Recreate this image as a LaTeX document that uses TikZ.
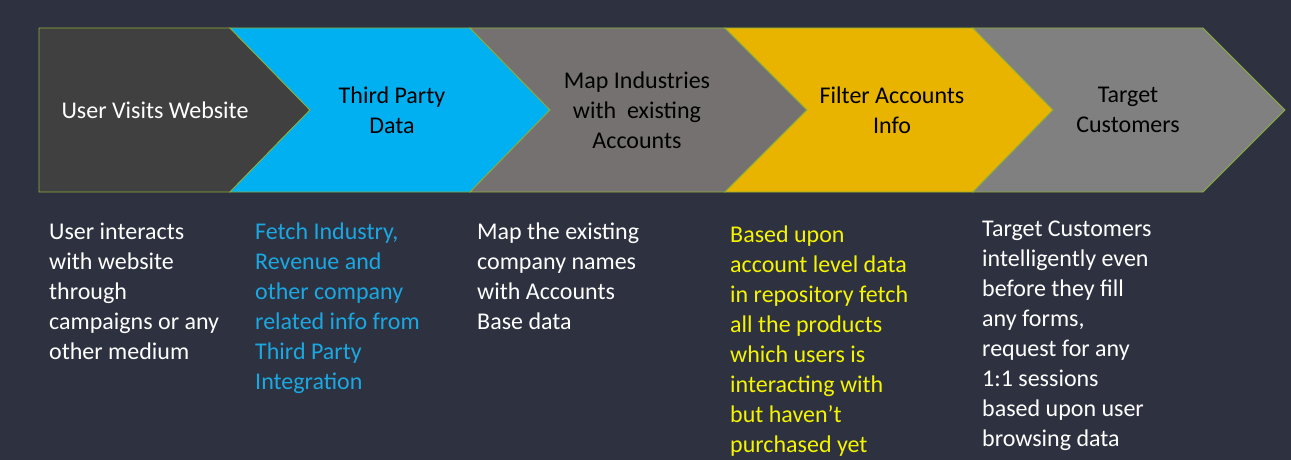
\documentclass[tikz,border=0pt]{standalone}
\usepackage{fontspec}
\setmainfont{Carlito}
\definecolor{bg}{HTML}{2E3140}
\definecolor{edge}{HTML}{8BAF3A}
\definecolor{cA}{HTML}{404040}
\definecolor{cB}{HTML}{00B0F0}
\definecolor{cC}{HTML}{767171}
\definecolor{cD}{HTML}{E8B400}
\definecolor{cE}{HTML}{808080}
\definecolor{tblue}{HTML}{1AA8E2}
\definecolor{tyellow}{HTML}{F5F500}
\tikzset{
  chev/.style={draw=edge, line width=0.8pt},
  head/.style={align=center, font=\fontsize{24}{30}\selectfont, inner sep=0pt},
  desc/.style={align=left, anchor=north west, font=\fontsize{24}{30}\selectfont, inner sep=0pt, text=white}
}
\begin{document}
\begin{tikzpicture}[x=1pt,y=-1pt]
\path[fill=bg, use as bounding box] (0,0) rectangle (1291,460);
% chevrons
\path[chev, fill=cA] (39,28) -- (230,28) -- (310,110) -- (230,192) -- (39,192) -- cycle;
\path[chev, fill=cB] (230,28) -- (470,28) -- (550,110) -- (470,192) -- (230,192) -- (310,110) -- cycle;
\path[chev, fill=cC] (470,28) -- (725,28) -- (807,110) -- (725,192) -- (470,192) -- (550,110) -- cycle;
\path[chev, fill=cD] (725,28) -- (973,28) -- (1053,110) -- (973,192) -- (725,192) -- (807,110) -- cycle;
\path[chev, fill=cE] (973,28) -- (1203,28) -- (1285,110) -- (1203,192) -- (973,192) -- (1053,110) -- cycle;
% headings
\node[head, text=white] (h1) at (155,110) {User Visits Website};
\node[head, text=black] (h2) at (392,110) {Third Party\\Data};
\node[head, text=black] (h3) at (637,110) {Map Industries\\with\ \ existing\\Accounts};
\node[head, text=black] (h4) at (892,110) {Filter Accounts\\Info};
\node[head, text=black] (h5) at (1128,110) {Target\\Customers};
% descriptions
\node[desc] (d1) at (49,223) {User interacts\\with website\\through\\campaigns or any\\other medium};
\node[desc, text=tblue] (d2) at (255,223) {Fetch Industry,\\Revenue and\\other company\\related info from\\Third Party\\Integration};
\node[desc] (d3) at (477,223) {Map the existing\\company names\\with Accounts\\Base data};
\node[desc, text=tyellow] (d4) at (730,226) {Based upon\\account level data\\in repository fetch\\all the products\\which users is\\interacting with\\but haven’t\\purchased yet};
\node[desc] (d5) at (982,221) {Target Customers\\intelligently even\\before they fill\\any forms,\\request for any\\1:1 sessions\\based upon user\\browsing data};
\end{tikzpicture}
\end{document}
